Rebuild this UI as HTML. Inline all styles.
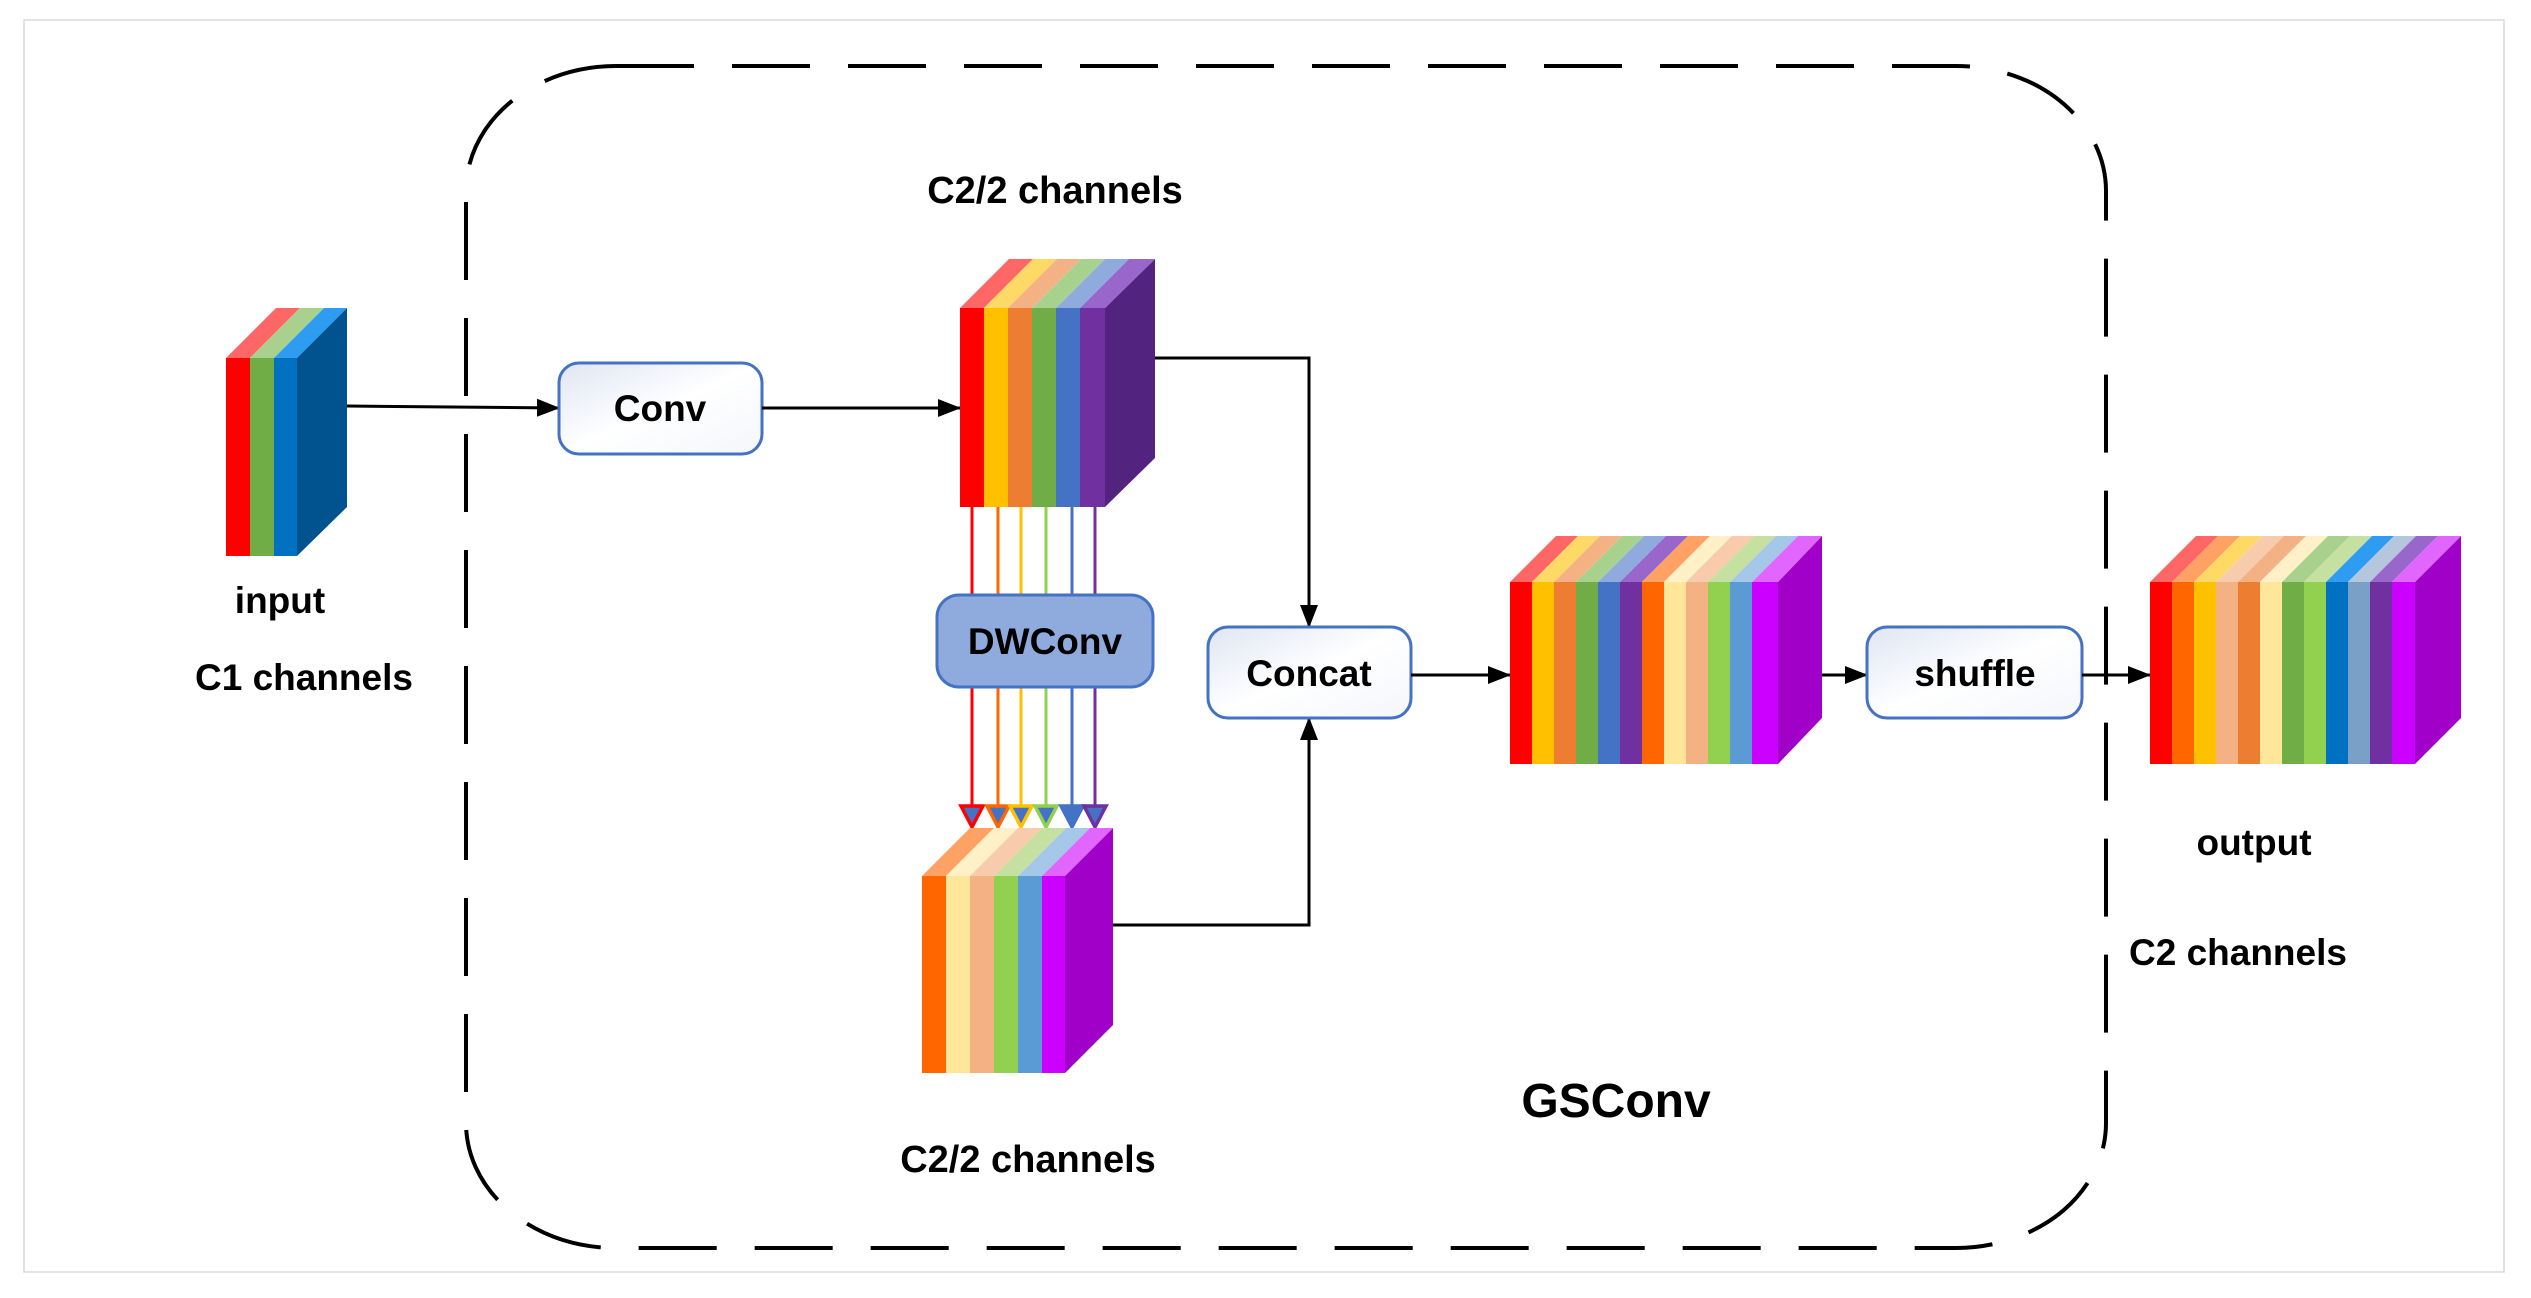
<!DOCTYPE html>
<html><head><meta charset="utf-8"><style>
html,body{margin:0;padding:0;background:#fff;}
svg{display:block;}
text{font-family:"Liberation Sans",sans-serif;font-weight:bold;fill:#000;}
</style></head><body>
<svg width="2531" height="1298" viewBox="0 0 2531 1298" xmlns="http://www.w3.org/2000/svg">
<defs>
<linearGradient id="bx" x1="0" y1="0" x2="1" y2="1">
<stop offset="0" stop-color="#dfe5f3"/><stop offset="0.5" stop-color="#ffffff"/><stop offset="1" stop-color="#f4f6fb"/>
</linearGradient>
<marker id="ah" markerWidth="24" markerHeight="20" refX="22" refY="10" orient="auto" markerUnits="userSpaceOnUse" viewBox="0 0 24 20">
<path d="M0,1 L23,10 L0,19 z" fill="#000"/>
</marker>
</defs>
<rect x="24" y="20" width="2480" height="1252" fill="none" stroke="#d9d9d9" stroke-width="1.5"/>
<rect x="466" y="66" width="1640" height="1182" rx="150" ry="125" fill="none" stroke="#000" stroke-width="4" stroke-dasharray="78,38"/>

<g>
<polygon points="226,358 276,308 300,308 250,358" fill="#ff6666"/>
<polygon points="250,358 300,308 324,308 274,358" fill="#a9d18e"/>
<polygon points="274,358 324,308 347,308 297,358" fill="#2e9cf0"/>
<polygon points="297,358 347,308 347,507 297,556" fill="#00538f"/>
<rect x="226" y="358" width="24" height="198" fill="#ff0000"/>
<rect x="250" y="358" width="24" height="198" fill="#70ad47"/>
<rect x="274" y="358" width="23" height="198" fill="#0070c0"/>
</g>
<text x="280" y="613" font-size="37" text-anchor="middle">input</text>
<text x="304" y="690" font-size="37" text-anchor="middle">C1 channels</text>

<line x1="347" y1="406" x2="559" y2="408" stroke="#000" stroke-width="3" marker-end="url(#ah)"/>
<rect x="559" y="363" width="203" height="91" rx="20" fill="url(#bx)" stroke="#4472c4" stroke-width="3"/>
<text x="660" y="421" font-size="37" text-anchor="middle">Conv</text>
<line x1="762" y1="408" x2="960" y2="408" stroke="#000" stroke-width="3" marker-end="url(#ah)"/>

<text x="1055" y="203" font-size="38" text-anchor="middle">C2/2 channels</text>

<g>
<polygon points="1105,308 1155,259 1155,458 1105,507" fill="#52247f"/>
<polygon points="960,308 1009,259 1033,259 984,308" fill="#ff6666"/>
<polygon points="984,308 1033,259 1057,259 1008,308" fill="#ffd966"/>
<polygon points="1008,308 1057,259 1081,259 1032,308" fill="#f4b183"/>
<polygon points="1032,308 1081,259 1105,259 1056,308" fill="#a9d18e"/>
<polygon points="1056,308 1105,259 1129,259 1080,308" fill="#8faadc"/>
<polygon points="1080,308 1129,259 1155,259 1105,308" fill="#9966cc"/>
<rect x="960" y="308" width="24" height="199" fill="#ff0000"/>
<rect x="984" y="308" width="24" height="199" fill="#ffc000"/>
<rect x="1008" y="308" width="24" height="199" fill="#ed7d31"/>
<rect x="1032" y="308" width="24" height="199" fill="#70ad47"/>
<rect x="1056" y="308" width="24" height="199" fill="#4472c4"/>
<rect x="1080" y="308" width="25" height="199" fill="#7030a0"/>
</g>

<g stroke-width="3">
<line x1="972" y1="507" x2="972" y2="810" stroke="#ff0000"/>
<line x1="998" y1="507" x2="998" y2="810" stroke="#ff6600"/>
<line x1="1021" y1="507" x2="1021" y2="810" stroke="#ffc000"/>
<line x1="1046" y1="507" x2="1046" y2="810" stroke="#92d050"/>
<line x1="1072" y1="507" x2="1072" y2="810" stroke="#4472c4"/>
<line x1="1095" y1="507" x2="1095" y2="810" stroke="#7030a0"/>
</g>
<g stroke-width="3.5" fill="#4472c4">
<polygon points="961,806 983,806 972,827" stroke="#ff0000"/>
<polygon points="987,806 1009,806 998,827" stroke="#ff6600"/>
<polygon points="1010,806 1032,806 1021,827" stroke="#ffc000"/>
<polygon points="1035,806 1057,806 1046,827" stroke="#92d050"/>
<polygon points="1061,806 1083,806 1072,827" stroke="#4472c4"/>
<polygon points="1084,806 1106,806 1095,827" stroke="#7030a0"/>
</g>
<rect x="937" y="595" width="216" height="92" rx="22" fill="#8faadc" stroke="#4472c4" stroke-width="3"/>
<text x="1045" y="654" font-size="37" text-anchor="middle">DWConv</text>

<g>
<polygon points="1065,876 1113,828 1113,1025 1065,1073" fill="#a000c8"/>
<polygon points="922,876 970,828 994,828 946,876" fill="#ffa264"/>
<polygon points="946,876 994,828 1018,828 970,876" fill="#fff0c8"/>
<polygon points="970,876 1018,828 1042,828 994,876" fill="#f8cbad"/>
<polygon points="994,876 1042,828 1066,828 1018,876" fill="#c5e0a0"/>
<polygon points="1018,876 1066,828 1090,828 1042,876" fill="#a6c8e8"/>
<polygon points="1042,876 1090,828 1113,828 1065,876" fill="#e066ff"/>
<rect x="922" y="876" width="24" height="197" fill="#ff6600"/>
<rect x="946" y="876" width="24" height="197" fill="#ffe699"/>
<rect x="970" y="876" width="24" height="197" fill="#f4b183"/>
<rect x="994" y="876" width="24" height="197" fill="#92d050"/>
<rect x="1018" y="876" width="24" height="197" fill="#5b9bd5"/>
<rect x="1042" y="876" width="23" height="197" fill="#cc00ff"/>
</g>
<text x="1028" y="1172" font-size="38" text-anchor="middle">C2/2 channels</text>

<polyline points="1155,358 1309,358 1309,627" fill="none" stroke="#000" stroke-width="3" marker-end="url(#ah)"/>
<polyline points="1113,925 1309,925 1309,718" fill="none" stroke="#000" stroke-width="3" marker-end="url(#ah)"/>
<rect x="1208" y="627" width="203" height="91" rx="20" fill="url(#bx)" stroke="#4472c4" stroke-width="3"/>
<text x="1309" y="686" font-size="37" text-anchor="middle">Concat</text>
<line x1="1411" y1="675" x2="1510" y2="675" stroke="#000" stroke-width="3" marker-end="url(#ah)"/>

<g>
<polygon points="1778,582 1822,536 1822,718 1778,764" fill="#a000c8"/>
<polygon points="1510,582 1556,536 1578,536 1532,582" fill="#ff6666"/>
<polygon points="1532,582 1578,536 1600,536 1554,582" fill="#ffd966"/>
<polygon points="1554,582 1600,536 1622,536 1576,582" fill="#f4b183"/>
<polygon points="1576,582 1622,536 1644,536 1598,582" fill="#a9d18e"/>
<polygon points="1598,582 1644,536 1666,536 1620,582" fill="#8faadc"/>
<polygon points="1620,582 1666,536 1688,536 1642,582" fill="#9966cc"/>
<polygon points="1642,582 1688,536 1710,536 1664,582" fill="#ffa264"/>
<polygon points="1664,582 1710,536 1732,536 1686,582" fill="#fff0c8"/>
<polygon points="1686,582 1732,536 1754,536 1708,582" fill="#f8cbad"/>
<polygon points="1708,582 1754,536 1776,536 1730,582" fill="#c5e0a0"/>
<polygon points="1730,582 1776,536 1798,536 1752,582" fill="#a6c8e8"/>
<polygon points="1752,582 1798,536 1822,536 1778,582" fill="#e066ff"/>
<rect x="1510" y="582" width="23" height="182" fill="#ff0000"/>
<rect x="1532" y="582" width="23" height="182" fill="#ffc000"/>
<rect x="1554" y="582" width="23" height="182" fill="#ed7d31"/>
<rect x="1576" y="582" width="23" height="182" fill="#70ad47"/>
<rect x="1598" y="582" width="23" height="182" fill="#4472c4"/>
<rect x="1620" y="582" width="23" height="182" fill="#7030a0"/>
<rect x="1642" y="582" width="23" height="182" fill="#ff6600"/>
<rect x="1664" y="582" width="23" height="182" fill="#ffe699"/>
<rect x="1686" y="582" width="23" height="182" fill="#f4b183"/>
<rect x="1708" y="582" width="23" height="182" fill="#92d050"/>
<rect x="1730" y="582" width="23" height="182" fill="#5b9bd5"/>
<rect x="1752" y="582" width="26" height="182" fill="#cc00ff"/>
</g>
<line x1="1822" y1="675" x2="1867" y2="675" stroke="#000" stroke-width="3" marker-end="url(#ah)"/>
<rect x="1867" y="627" width="215" height="91" rx="20" fill="url(#bx)" stroke="#4472c4" stroke-width="3"/>
<text x="1975" y="686" font-size="37" text-anchor="middle">shuffle</text>
<line x1="2082" y1="675" x2="2150" y2="675" stroke="#000" stroke-width="3" marker-end="url(#ah)"/>

<g>
<polygon points="2415,582 2461,536 2461,718 2415,764" fill="#a000c8"/>
<polygon points="2150,582 2196,536 2218,536 2172,582" fill="#ff6666"/>
<polygon points="2172,582 2218,536 2240,536 2194,582" fill="#ffa264"/>
<polygon points="2194,582 2240,536 2262,536 2216,582" fill="#ffd966"/>
<polygon points="2216,582 2262,536 2284,536 2238,582" fill="#f8cbad"/>
<polygon points="2238,582 2284,536 2306,536 2260,582" fill="#f4b183"/>
<polygon points="2260,582 2306,536 2328,536 2282,582" fill="#fff0c8"/>
<polygon points="2282,582 2328,536 2350,536 2304,582" fill="#a9d18e"/>
<polygon points="2304,582 2350,536 2372,536 2326,582" fill="#c5e0a0"/>
<polygon points="2326,582 2372,536 2394,536 2348,582" fill="#2e9cf0"/>
<polygon points="2348,582 2394,536 2416,536 2370,582" fill="#b4c7dc"/>
<polygon points="2370,582 2416,536 2438,536 2392,582" fill="#9966cc"/>
<polygon points="2392,582 2438,536 2461,536 2415,582" fill="#e066ff"/>
<rect x="2150" y="582" width="23" height="182" fill="#ff0000"/>
<rect x="2172" y="582" width="23" height="182" fill="#ff6600"/>
<rect x="2194" y="582" width="23" height="182" fill="#ffc000"/>
<rect x="2216" y="582" width="23" height="182" fill="#f4b183"/>
<rect x="2238" y="582" width="23" height="182" fill="#ed7d31"/>
<rect x="2260" y="582" width="23" height="182" fill="#ffe699"/>
<rect x="2282" y="582" width="23" height="182" fill="#70ad47"/>
<rect x="2304" y="582" width="23" height="182" fill="#92d050"/>
<rect x="2326" y="582" width="23" height="182" fill="#0070c0"/>
<rect x="2348" y="582" width="23" height="182" fill="#7ba0c8"/>
<rect x="2370" y="582" width="23" height="182" fill="#7030a0"/>
<rect x="2392" y="582" width="23" height="182" fill="#cc00ff"/>
</g>
<text x="2254" y="855" font-size="37" text-anchor="middle">output</text>
<text x="2238" y="965" font-size="37" text-anchor="middle">C2 channels</text>
<text x="1616" y="1117" font-size="48" text-anchor="middle">GSConv</text>
</svg>
</body></html>
